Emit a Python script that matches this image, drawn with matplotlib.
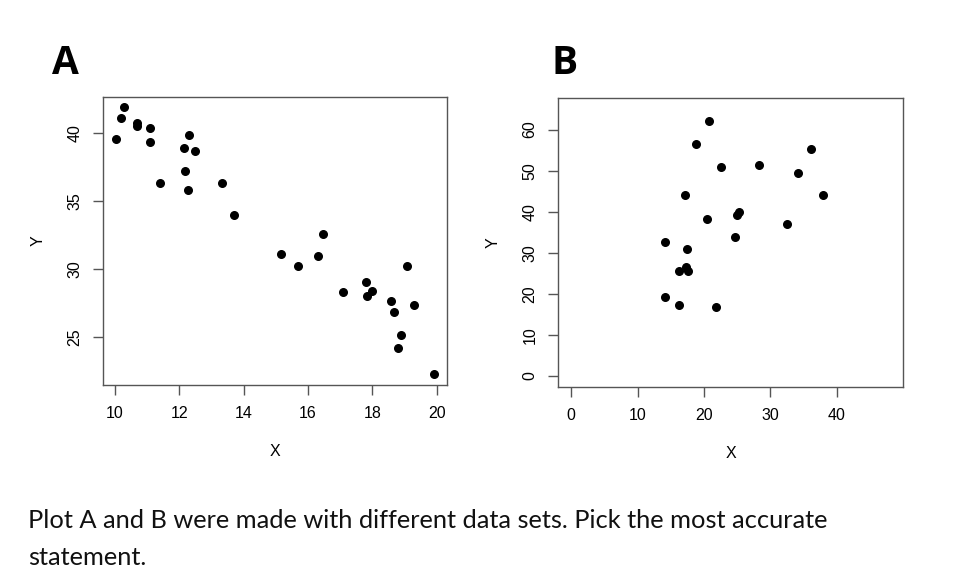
import numpy as np
import matplotlib.pyplot as plt

# plot A data
xa = [10.03, 10.17, 10.29, 10.68, 10.68, 11.08, 11.08, 11.41, 12.13, 12.29,
      12.47, 12.16, 12.26, 13.32, 13.71, 15.15, 15.67, 16.31, 16.46, 17.09,
      17.80, 17.82, 17.99, 18.58, 18.66, 19.06, 19.30, 18.89, 18.79, 19.92]
ya = [39.51, 41.10, 41.86, 40.69, 40.47, 40.32, 39.29, 36.34, 38.90, 39.81,
      38.63, 37.17, 35.82, 36.34, 33.94, 31.08, 30.18, 30.96, 32.55, 28.30,
      29.01, 28.00, 28.39, 27.61, 26.83, 30.25, 27.34, 25.17, 24.17, 22.26]

# plot B data
xb = [20.83, 18.87, 36.18, 22.58, 28.25, 34.18, 37.89, 17.16, 20.43, 24.99,
      25.34, 32.47, 24.69, 14.20, 17.41, 16.26, 17.31, 17.56, 14.20, 16.31,
      21.78]
yb = [62.11, 56.42, 55.37, 50.98, 51.38, 49.51, 44.07, 44.00, 38.13, 39.27,
      39.84, 37.07, 33.90, 32.60, 30.89, 25.53, 26.42, 25.61, 19.35, 17.32,
      16.75]

xticks_a = [10, 12, 14, 16, 18, 20]
yticks_a = [25, 30, 35, 40]
xticks_b = [0, 10, 20, 30, 40]
yticks_b = [0, 10, 20, 30, 40, 50, 60]

caption = ("Plot A and B were made with different data sets. Pick the most accurate\n"
           "statement.")

def r_range(lo, hi):
    # R style 4% padding
    d = (hi - lo) * 0.04
    return lo - d, hi + d

def style_axes(ax):
    for s in ax.spines.values():
        s.set_color('#555555')
        s.set_linewidth(1.0)
    ax.tick_params(colors='#555555', labelcolor='black', length=7, width=1.0,
                   labelsize=11.5, pad=8)
    for lab in ax.get_xticklabels() + ax.get_yticklabels():
        lab.set_family('Liberation Sans')
    for lab in ax.get_yticklabels():
        lab.set_rotation(90)
        lab.set_va('center')

fig = plt.figure(figsize=(9.59, 5.87), dpi=100)

axA = fig.add_axes([0.1077, 0.3441, 0.3584, 0.4911])
axA.scatter(xa, ya, s=30, color='black', zorder=3)
axA.set_xlim(r_range(min(xa), max(xa)))
axA.set_ylim(r_range(min(ya), max(ya)))
axA.set_xticks(xticks_a)
axA.set_yticks(yticks_a)
style_axes(axA)
axA.set_xlabel('X', family='Liberation Sans', fontsize=11.5, labelpad=17)
axA.set_ylabel('Y', family='Liberation Sans', fontsize=11.5, labelpad=16)

axB = fig.add_axes([0.5822, 0.3412, 0.3591, 0.4913])
axB.scatter(xb, yb, s=30, color='black', zorder=3)
axB.set_xlim(r_range(0, 48))
axB.set_ylim(r_range(0, 65))
axB.set_xticks(xticks_b)
axB.set_yticks(yticks_b)
style_axes(axB)
axB.set_xlabel('X', family='Liberation Sans', fontsize=11.5, labelpad=17)
axB.set_ylabel('Y', family='Liberation Sans', fontsize=11.5, labelpad=16)

fig.text(65 / 959, 1 - 64 / 587, 'A', fontsize=28, fontweight='bold',
         family='Open Sans', ha='center', va='center')
fig.text(565 / 959, 1 - 64 / 587, 'B', fontsize=28, fontweight='bold',
         family='Open Sans', ha='center', va='center')

fig.text(28 / 959, 1 - 539 / 587, caption, fontsize=18.3, family='Lato',
         ha='left', va='center', linespacing=1.75, color='#111111')

fig.savefig('out.png', dpi=100, facecolor='white')
